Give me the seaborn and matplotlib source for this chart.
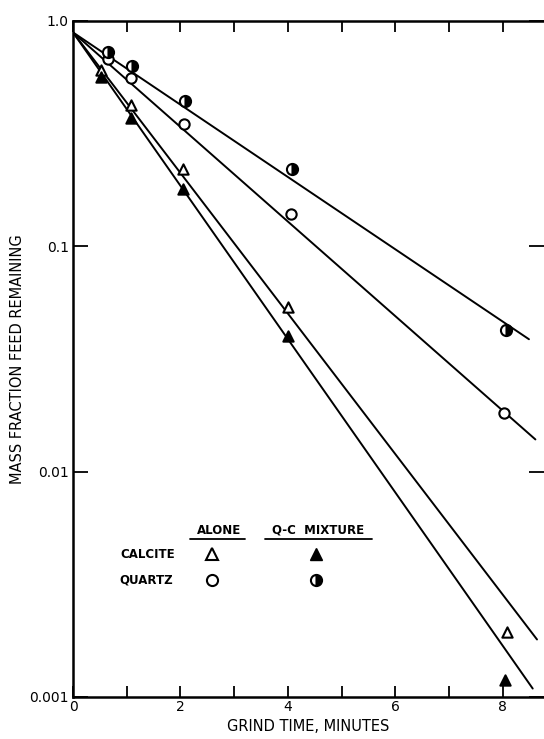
import matplotlib
matplotlib.use("Agg")
import matplotlib.pyplot as plt
import seaborn as sns
import pandas as pd

# values (grind time in minutes, mass fraction remaining)
calcite_alone_t = [0.52, 1.08, 2.05, 4.0, 8.09]
calcite_alone_m = [0.606, 0.424, 0.220, 0.054, 0.00195]

calcite_mix_t = [0.53, 1.08, 2.04, 4.0, 8.05]
calcite_mix_m = [0.562, 0.370, 0.179, 0.040, 0.00119]

quartz_alone_t = [0.65, 1.08, 2.07, 4.05, 8.02]
quartz_alone_m = [0.676, 0.557, 0.349, 0.1387, 0.01825]

quartz_mix_t = [0.66, 1.09, 2.08, 4.08, 8.07]
quartz_mix_m = [0.726, 0.631, 0.443, 0.220, 0.0425]

# fitted first-order lines: start and end points
fit_names = ["quartz_mix", "quartz_alone", "calcite_alone", "calcite_mix"]
fit_t_end = [8.49, 8.61, 8.64, 8.56]
fit_m_start = [0.89, 0.89, 0.89, 0.89]
fit_m_end = [0.0387, 0.0139, 0.00180, 0.00109]

x_ticks = [0, 1, 2, 3, 4, 5, 6, 7, 8]
x_labels = ["0", "", "2", "", "4", "", "6", "", "8"]
y_ticks = [0.001, 0.01, 0.1, 1.0]
y_labels = ["0.001", "0.01", "0.1", "1.0"]

sns.set_style("ticks")
plt.rcParams["font.family"] = ["DejaVu Sans"]
plt.rcParams.update({"axes.edgecolor": "black", "xtick.color": "black",
                     "ytick.color": "black", "text.color": "black",
                     "axes.labelcolor": "black"})

fig = plt.figure(figsize=(5.44, 7.39), dpi=100)
ax = fig.add_axes([73 / 544, 1 - 697 / 739, 1 - 73 / 544, (697 - 21) / 739])

lines = pd.DataFrame({
    "name": [n for n in fit_names for _ in range(2)],
    "t": [v for e in fit_t_end for v in (0.0, e)],
    "m": [v for s, e in zip(fit_m_start, fit_m_end) for v in (s, e)],
})
for name, grp in lines.groupby("name"):
    sns.lineplot(data=grp, x="t", y="m", ax=ax, color="black", lw=1.4,
                 sort=False, estimator=None, legend=False)

ms = 55
sns.scatterplot(x=calcite_alone_t, y=calcite_alone_m, ax=ax, marker="^", s=ms,
                facecolor="white", edgecolor="black", linewidth=1.5, zorder=3)
sns.scatterplot(x=calcite_mix_t, y=calcite_mix_m, ax=ax, marker="^", s=ms,
                facecolor="black", edgecolor="black", linewidth=1.5, zorder=3)
sns.scatterplot(x=quartz_alone_t, y=quartz_alone_m, ax=ax, marker="o", s=ms,
                facecolor="white", edgecolor="black", linewidth=1.5, zorder=3)
ax.plot(quartz_mix_t, quartz_mix_m, ls="none", marker="o", ms=8, fillstyle="right",
        markerfacecolor="black", markerfacecoloralt="white", markeredgecolor="black",
        markeredgewidth=1.5, zorder=3)

ax.set_yscale("log")
ax.set_xlim(0, 8.77)
ax.set_ylim(0.001, 1.0)
ax.set_xticks(x_ticks)
ax.set_xticklabels(x_labels)
ax.set_yticks(y_ticks)
ax.set_yticklabels(y_labels)
ax.minorticks_off()
ax.tick_params(axis="x", direction="in", length=8, width=1.3, top=True,
               labelsize=10, pad=2)
ax.tick_params(axis="y", direction="in", length=11, width=1.3, right=True,
               labelsize=10, pad=3)

for side in ["left", "top", "bottom"]:
    ax.spines[side].set_linewidth(1.8)
ax.spines["right"].set_visible(False)

ax.set_xlabel("GRIND TIME, MINUTES", fontsize=10.5, labelpad=4)
ax.set_ylabel("MASS FRACTION FEED REMAINING", fontsize=10.5, labelpad=3)

# hand-made key
kw = dict(transform=ax.transAxes, fontsize=8.5, fontweight="bold", va="center")
ax.text(0.31, 0.247, "ALONE", ha="center", **kw)
ax.text(0.52, 0.247, "Q-C  MIXTURE", ha="center", **kw)
ax.plot([0.248, 0.365], [0.233, 0.233], transform=ax.transAxes, color="black", lw=1.3)
ax.plot([0.408, 0.635], [0.233, 0.233], transform=ax.transAxes, color="black", lw=1.3)
ax.text(0.217, 0.2115, "CALCITE", ha="right", **kw)
ax.text(0.212, 0.173, "QUARTZ", ha="right", **kw)
ax.plot([0.295], [0.2115], transform=ax.transAxes, marker="^", ms=8, color="black",
        markerfacecolor="white", markeredgewidth=1.5, ls="none")
ax.plot([0.516], [0.2115], transform=ax.transAxes, marker="^", ms=8, color="black",
        ls="none")
ax.plot([0.295], [0.173], transform=ax.transAxes, marker="o", ms=8, color="black",
        markerfacecolor="white", markeredgewidth=1.5, ls="none")
ax.plot([0.516], [0.173], transform=ax.transAxes, marker="o", ms=8, fillstyle="right",
        markerfacecolor="black", markerfacecoloralt="white", markeredgecolor="black",
        markeredgewidth=1.5, ls="none")

fig.savefig("out.png", dpi=100)
